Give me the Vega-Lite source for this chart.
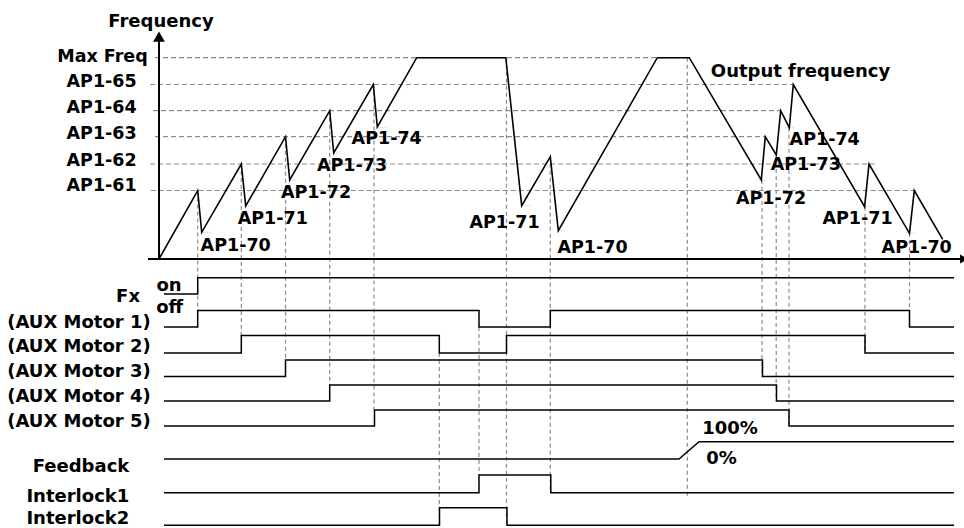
{
  "$schema": "https://vega.github.io/schema/vega-lite/v6.json",
  "width": 964,
  "height": 528,
  "autosize": {"type": "none"},
  "padding": 0,
  "background": "white",
  "config": {"view": {"stroke": null}, "text": {"font": "DejaVu Sans", "fontWeight": "bold", "color": "#000"}},
  "datasets": {
    "wave": [
      {"i":1,"t":0,"v":0},{"i":2,"t":38.7,"v":68.5},{"i":3,"t":42.7,"v":26.7},{"i":4,"t":82.3,"v":95},
      {"i":5,"t":86.7,"v":53},{"i":6,"t":126.5,"v":122.3},{"i":7,"t":130.7,"v":79},{"i":8,"t":170.7,"v":148.3},
      {"i":9,"t":174.7,"v":106},{"i":10,"t":214.3,"v":174.5},{"i":11,"t":218.3,"v":132},{"i":12,"t":257.7,"v":201.3},
      {"i":13,"t":346.8,"v":201.3},{"i":14,"t":362.7,"v":53.3},{"i":15,"t":391.3,"v":102.3},{"i":16,"t":399.3,"v":28.3},
      {"i":17,"t":498.3,"v":201.3},{"i":18,"t":530.3,"v":201.3},{"i":19,"t":602.3,"v":79},{"i":20,"t":606.3,"v":122.3},
      {"i":21,"t":617.3,"v":104},{"i":22,"t":621.7,"v":148.3},{"i":23,"t":630.3,"v":131.3},{"i":24,"t":634.3,"v":174.5},
      {"i":25,"t":705.6,"v":52.3},{"i":26,"t":710,"v":95},{"i":27,"t":750.5,"v":25.7},{"i":28,"t":755.3,"v":68.5},
      {"i":29,"t":783.7,"v":19.7}
    ],
    "sig": [
      {"s":"Fx","i":1,"t":5,"v":-35},{"s":"Fx","i":2,"t":38.7,"v":-35},{"s":"Fx","i":3,"t":38.7,"v":-18.7},{"s":"Fx","i":4,"t":795,"v":-18.7},
      {"s":"A1","i":1,"t":5,"v":-68},{"s":"A1","i":2,"t":38.7,"v":-68},{"s":"A1","i":3,"t":38.7,"v":-51.5},{"s":"A1","i":4,"t":320,"v":-51.5},
      {"s":"A1","i":5,"t":320,"v":-68},{"s":"A1","i":6,"t":391.3,"v":-68},{"s":"A1","i":7,"t":391.3,"v":-51.5},{"s":"A1","i":8,"t":750.5,"v":-51.5},
      {"s":"A1","i":9,"t":750.5,"v":-68},{"s":"A1","i":10,"t":795,"v":-68},
      {"s":"A2","i":1,"t":5,"v":-94},{"s":"A2","i":2,"t":82.3,"v":-94},{"s":"A2","i":3,"t":82.3,"v":-76.5},{"s":"A2","i":4,"t":280.3,"v":-76.5},
      {"s":"A2","i":5,"t":280.3,"v":-94},{"s":"A2","i":6,"t":347.5,"v":-94},{"s":"A2","i":7,"t":347.5,"v":-76.5},{"s":"A2","i":8,"t":706,"v":-76.5},
      {"s":"A2","i":9,"t":706,"v":-94},{"s":"A2","i":10,"t":795,"v":-94},
      {"s":"A3","i":1,"t":5,"v":-117.5},{"s":"A3","i":2,"t":126.5,"v":-117.5},{"s":"A3","i":3,"t":126.5,"v":-101},{"s":"A3","i":4,"t":603.5,"v":-101},
      {"s":"A3","i":5,"t":603.5,"v":-117.5},{"s":"A3","i":6,"t":795,"v":-117.5},
      {"s":"A4","i":1,"t":5,"v":-142},{"s":"A4","i":2,"t":170.7,"v":-142},{"s":"A4","i":3,"t":170.7,"v":-126},{"s":"A4","i":4,"t":617.5,"v":-126},
      {"s":"A4","i":5,"t":617.5,"v":-142},{"s":"A4","i":6,"t":795,"v":-142},
      {"s":"A5","i":1,"t":5,"v":-167},{"s":"A5","i":2,"t":215.5,"v":-167},{"s":"A5","i":3,"t":215.5,"v":-151},{"s":"A5","i":4,"t":630,"v":-151},
      {"s":"A5","i":5,"t":630,"v":-167},{"s":"A5","i":6,"t":795,"v":-167},
      {"s":"FB","i":1,"t":5,"v":-200},{"s":"FB","i":2,"t":520,"v":-200},{"s":"FB","i":3,"t":540,"v":-182.7},{"s":"FB","i":4,"t":795,"v":-182.7},
      {"s":"I1","i":1,"t":5,"v":-233.7},{"s":"I1","i":2,"t":320,"v":-233.7},{"s":"I1","i":3,"t":320,"v":-216},{"s":"I1","i":4,"t":391.8,"v":-216},
      {"s":"I1","i":5,"t":391.8,"v":-233.7},{"s":"I1","i":6,"t":795,"v":-233.7},
      {"s":"I2","i":1,"t":5,"v":-266.3},{"s":"I2","i":2,"t":280.5,"v":-266.3},{"s":"I2","i":3,"t":280.5,"v":-248.7},{"s":"I2","i":4,"t":348,"v":-248.7},
      {"s":"I2","i":5,"t":348,"v":-266.3},{"s":"I2","i":6,"t":795,"v":-266.3}
    ],
    "hgrid": [
      {"t":-4,"t2":530.3,"v":201.3},{"t":-9,"t2":634.3,"v":174.5},{"t":-6,"t2":621.7,"v":148.3},
      {"t":-4,"t2":606.3,"v":122.3},{"t":-9,"t2":717.7,"v":95},{"t":-8.3,"t2":757.7,"v":68.5}
    ],
    "vgrid": [
      {"t":38.7,"v":68.5,"v2":-51.5},{"t":82.3,"v":95,"v2":-76.5},{"t":126.5,"v":122.3,"v2":-101},
      {"t":170.7,"v":148.3,"v2":-126},{"t":215,"v":174.5,"v2":-151},{"t":280.3,"v":-94,"v2":-267.7},
      {"t":320,"v":-68,"v2":-216},{"t":347.5,"v":201.3,"v2":-266},{"t":391.3,"v":102.3,"v2":-233},
      {"t":528.3,"v":201.3,"v2":-237.7},{"t":603,"v":79,"v2":-117.5},{"t":617.2,"v":104,"v2":-142},
      {"t":630,"v":131.3,"v2":-167},{"t":706,"v":52.3,"v2":-94},{"t":750.5,"v":25.7,"v2":-68}
    ],
    "dots": [
      {"t":43,"t2":53,"v":26.7},{"t":86.7,"t2":94.3,"v":53},{"t":130.7,"t2":138.7,"v":79},{"t":174.7,"t2":182.7,"v":106},
      {"t":218.3,"t2":227.7,"v":131.3},{"t":362.7,"t2":372.7,"v":53.3},{"t":399.3,"t2":406,"v":28.3},{"t":597.7,"t2":607.7,"v":79},
      {"t":614.3,"t2":624.3,"v":104},{"t":626,"t2":636,"v":131.3},{"t":704.3,"t2":712.7,"v":52.3},{"t":747.7,"t2":756,"v":25.7}
    ],
    "axes": [
      {"t":0,"t2":0,"v":0,"v2":220},{"t":-11,"t2":801,"v":0,"v2":0}
    ],
    "levels": [
      {"label":"Max Freq","t":-11.3,"v":202.3},{"label":"AP1-65","t":-22.3,"v":177.3},{"label":"AP1-64","t":-22.3,"v":150.7},
      {"label":"AP1-63","t":-22.3,"v":125},{"label":"AP1-62","t":-22.3,"v":98.3},{"label":"AP1-61","t":-22.3,"v":73}
    ],
    "wavelabels": [
      {"label":"AP1-70","t":76.7,"v":13},{"label":"AP1-71","t":113.8,"v":40},{"label":"AP1-72","t":157,"v":66.3},
      {"label":"AP1-73","t":193,"v":93.3},{"label":"AP1-74","t":227.7,"v":119.7},{"label":"AP1-71","t":345.5,"v":35.7},
      {"label":"AP1-70","t":433.5,"v":10.7},{"label":"AP1-72","t":612,"v":59.7},{"label":"AP1-73","t":646.8,"v":94},
      {"label":"AP1-74","t":665.7,"v":119},{"label":"AP1-71","t":698.5,"v":40},{"label":"AP1-70","t":757.7,"v":10.7}
    ],
    "ctext": [
      {"label":"Frequency","t":2,"v":237},{"label":"Output frequency","t":641.5,"v":187.3},
      {"label":"on","t":10,"v":-27},{"label":"off","t":10.7,"v":-48.5},
      {"label":"100%","t":571,"v":-170.2},{"label":"0%","t":562.5,"v":-199.8}
    ],
    "rtext": [
      {"label":"Fx","t":-19,"v":-38.3},
      {"label":"(AUX Motor 1)","t":-8.3,"v":-64.3},{"label":"(AUX Motor 2)","t":-8.3,"v":-88.3},
      {"label":"(AUX Motor 3)","t":-8.3,"v":-112.7},{"label":"(AUX Motor 4)","t":-8.3,"v":-137.7},
      {"label":"(AUX Motor 5)","t":-8.3,"v":-162.7},
      {"label":"Feedback","t":-29.7,"v":-207.7},{"label":"Interlock1","t":-29.7,"v":-237.7},{"label":"Interlock2","t":-29.7,"v":-259.5}
    ],
    "uparrow": [{"t":0,"v":222.3}],
    "rightarrow": [{"t":805,"v":0}]
  },
  "encoding": {
    "x": {"field":"t","type":"quantitative","scale":{"domain":[-159,805],"nice":false,"zero":false},"axis":null},
    "y": {"field":"v","type":"quantitative","scale":{"domain":[-269,259],"nice":false,"zero":false},"axis":null}
  },
  "layer": [
    {"data":{"name":"hgrid"},"mark":{"type":"rule","color":"#8c8c8c","strokeWidth":1.2,"strokeDash":[5,3]},
     "encoding":{"x2":{"field":"t2"}}},
    {"data":{"name":"vgrid"},"mark":{"type":"rule","color":"#8c8c8c","strokeWidth":1.2,"strokeDash":[4,3]},
     "encoding":{"y2":{"field":"v2"}}},
    {"data":{"name":"dots"},"mark":{"type":"rule","color":"#bdbdbd","strokeWidth":1,"strokeDash":[1,1.5]},
     "encoding":{"x2":{"field":"t2"}}},
    {"data":{"name":"axes"},"mark":{"type":"rule","color":"#000","strokeWidth":2},
     "encoding":{"x2":{"field":"t2"},"y2":{"field":"v2"}}},
    {"data":{"name":"uparrow"},"mark":{"type":"point","shape":"triangle-up","filled":true,"color":"#000","size":140,"opacity":1}},
    {"data":{"name":"rightarrow"},"mark":{"type":"point","shape":"triangle-right","filled":true,"color":"#000","size":85,"opacity":1}},
    {"data":{"name":"wave"},"mark":{"type":"line","color":"#000","strokeWidth":1.6},
     "encoding":{"order":{"field":"i","type":"quantitative"}}},
    {"data":{"name":"sig"},"mark":{"type":"line","color":"#000","strokeWidth":1.5},
     "encoding":{"detail":{"field":"s","type":"nominal"},"order":{"field":"i","type":"quantitative"}}},
    {"data":{"name":"levels"},"mark":{"type":"text","align":"right","baseline":"middle","fontSize":17.5},
     "encoding":{"text":{"field":"label"}}},
    {"data":{"name":"wavelabels"},"mark":{"type":"text","align":"center","baseline":"middle","fontSize":17.5},
     "encoding":{"text":{"field":"label"}}},
    {"data":{"name":"ctext"},"mark":{"type":"text","align":"center","baseline":"middle","fontSize":18},
     "encoding":{"text":{"field":"label"}}},
    {"data":{"name":"rtext"},"mark":{"type":"text","align":"right","baseline":"middle","fontSize":18},
     "encoding":{"text":{"field":"label"}}}
  ]
}
